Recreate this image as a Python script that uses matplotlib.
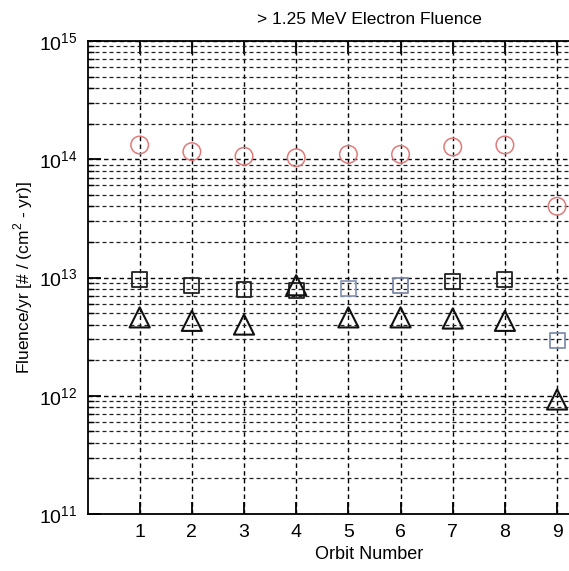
import matplotlib
matplotlib.use("Agg")
import matplotlib.pyplot as plt
from matplotlib.ticker import LogLocator, NullFormatter, FixedLocator
import numpy as np

plt.rcParams['font.family'] = ['Liberation Sans', 'DejaVu Sans']
plt.rcParams['mathtext.fontset'] = 'custom'
plt.rcParams['mathtext.rm'] = 'Liberation Sans'

orbits = [1, 2, 3, 4, 5, 6, 7, 8, 9]
circle_vals = [1.32e14, 1.16e14, 1.06e14, 1.03e14, 1.10e14, 1.10e14, 1.27e14, 1.32e14, 4.0e13]
square_vals = [9.6e12, 8.5e12, 7.9e12, 7.7e12, 8.1e12, 8.5e12, 9.3e12, 9.6e12, 2.95e12]
triangle_vals = [4.6e12, 4.3e12, 4.0e12, 8.6e12, 4.6e12, 4.6e12, 4.5e12, 4.3e12, 0.93e12]
square_colors = ['#222222', '#222222', '#222222', '#222222', '#8a9ab8',
                 '#7c86a8', '#222222', '#222222', '#8090b0']

W, H = 569, 571
fig = plt.figure(figsize=(W / 100, H / 100), dpi=100)
left, right_px, top, bottom = 87.5, 651.0, 41.0, 514.0
ax = fig.add_axes([left / W, 1 - bottom / H, (right_px - left) / W, (bottom - top) / H])

ax.set_yscale('log')
ax.set_ylim(1e11, 1e15)
ax.set_xlim(0, 10.8)

# grid
ax.xaxis.set_major_locator(FixedLocator(orbits + [10]))
ax.yaxis.set_major_locator(LogLocator(base=10, numticks=10))
ax.yaxis.set_minor_locator(LogLocator(base=10, subs=np.arange(2, 10), numticks=50))
ax.yaxis.set_minor_formatter(NullFormatter())
dash = (0, (3.2, 2.4))
ax.grid(True, which='major', axis='both', color='black', linestyle=dash, linewidth=1.0)
ax.grid(True, which='minor', axis='y', color='#222222', linestyle=dash, linewidth=0.9)
ax.set_axisbelow(True)

# markers
ax.scatter(orbits, circle_vals, s=160, marker='o', facecolors='none',
           edgecolors='#e07a7a', linewidths=1.1, zorder=3)
ax.scatter(orbits, square_vals, s=115, marker='s', facecolors='none',
           edgecolors=square_colors, linewidths=1.3, zorder=3)
ax.scatter(orbits, triangle_vals, s=210, marker='^', facecolors='none',
           edgecolors='#111111', linewidths=1.5, zorder=4)

for side in ['left', 'bottom', 'top']:
    ax.spines[side].set_linewidth(1.3)
    ax.spines[side].set_color('black')
ax.spines['right'].set_visible(False)

ax.tick_params(axis='both', which='major', direction='in', length=9, width=1.3,
               top=True, labelsize=14, pad=7)
ax.tick_params(axis='y', which='minor', direction='in', length=4, width=1.0)
ax.set_xticklabels([str(o) for o in orbits] + [''])

ax.set_title('> 1.25 MeV Electron Fluence', fontsize=12.5, pad=12)
ax.set_xlabel('Orbit Number', fontsize=13, labelpad=4)
ax.set_ylabel('Fluence/yr [# / (cm$^2$ - yr)]', fontsize=12.5, labelpad=3)

fig.savefig('out.png', dpi=100)
